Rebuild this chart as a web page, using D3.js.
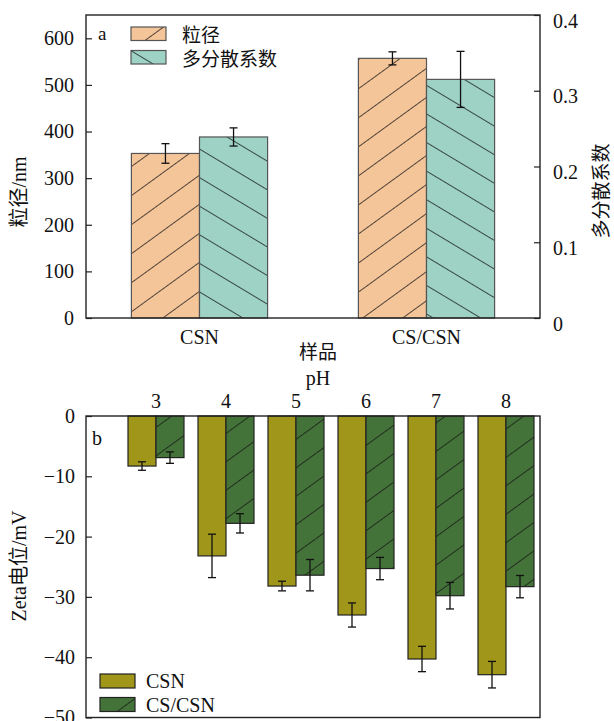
<!DOCTYPE html>
<html>
<head>
<meta charset="utf-8">
<style>
  body { margin: 0; background: #fff; }
  svg text { font-family: "Liberation Serif", "Times New Roman", "Noto Sans CJK SC", serif; fill: #111; }
</style>
</head>
<body>
<div class="chart"></div>
<script src="https://d3js.org/d3.v7.min.js"></script>
<script>
  // 图a 粒径 / 多分散系数
  const samples = ['CSN', 'CS/CSN']
  const sizeNm = [353, 557]
  const sizeErr = [21, 14]
  const pdi = [0.239, 0.315]
  const pdiErr = [0.012, 0.037]
  const sizeTicks = [0, 100, 200, 300, 400, 500, 600]
  const pdiTicks = [0, 0.1, 0.2, 0.3, 0.4]

  // 图b Zeta电位
  const phs = ['3', '4', '5', '6', '7', '8']
  const zetaCSN = [-8.3, -23.2, -28.2, -33.0, -40.3, -42.9]
  const zetaCSNErr = [0.7, 3.6, 0.8, 2.0, 2.1, 2.2]
  const zetaCS = [-6.9, -17.8, -26.4, -25.3, -29.8, -28.3]
  const zetaCSErr = [0.95, 1.6, 2.6, 1.85, 2.2, 1.85]
  const zetaTicks = [0, -10, -20, -30, -40, -50]

  const W = 614, H = 721
  const serif = '"Liberation Serif", "Times New Roman", "Noto Sans CJK SC", serif'
  const svg = d3.select('.chart').append('svg')
                .attr('width', W).attr('height', H)

  // hatch patterns
  const defs = svg.append('defs')
  function hatch(id, fill, angle, gap){
    const p = defs.append('pattern')
                  .attr('id', id)
                  .attr('patternUnits', 'userSpaceOnUse')
                  .attr('width', 10).attr('height', gap)
                  .attr('patternTransform', `rotate(${angle})`)
    p.append('rect').attr('width', 10).attr('height', gap).attr('fill', fill)
    p.append('line').attr('x1', 0).attr('x2', 10).attr('y1', 0.4).attr('y2', 0.4)
     .attr('stroke', '#111').attr('stroke-width', 0.8)
  }
  hatch('hOrange', '#F5C59A', -36, 23.5)
  hatch('hTeal', '#9DD2C4', 31, 24.5)
  hatch('hGreen', '#44733A', -36, 23)

  const left = 86, right = 540

  // ---------- 图a ----------
  const aTop = 15, aBottom = 318
  const xA = d3.scaleBand().domain(samples).range([left, right])
               .paddingInner(0.4).paddingOuter(0.2)
  const ySize = d3.scaleLinear().domain([0, 650]).range([aBottom, aTop])
  const yPdi = d3.scaleLinear().domain([0, 0.4]).range([aBottom, aTop])
  const bwA = xA.bandwidth() / 2

  const gA = svg.append('g')
  gA.selectAll('.sizeBar').data(samples).join('rect')
    .attr('x', d => xA(d)).attr('width', bwA)
    .attr('y', (d, i) => ySize(sizeNm[i]))
    .attr('height', (d, i) => aBottom - ySize(sizeNm[i]))
    .attr('fill', 'url(#hOrange)').attr('stroke', '#555').attr('stroke-width', 1.2)
  gA.selectAll('.pdiBar').data(samples).join('rect')
    .attr('x', d => xA(d) + bwA).attr('width', bwA)
    .attr('y', (d, i) => yPdi(pdi[i]))
    .attr('height', (d, i) => aBottom - yPdi(pdi[i]))
    .attr('fill', 'url(#hTeal)').attr('stroke', '#555').attr('stroke-width', 1.2)

  function errBar(g, cx, y1, y2){
    g.append('line').attr('x1', cx).attr('x2', cx).attr('y1', y1).attr('y2', y2)
    g.append('line').attr('x1', cx - 4).attr('x2', cx + 4).attr('y1', y1).attr('y2', y1)
    g.append('line').attr('x1', cx - 4).attr('x2', cx + 4).attr('y1', y2).attr('y2', y2)
  }
  const errA = gA.append('g').attr('stroke', '#111').attr('stroke-width', 1.3)
  samples.forEach((s, i) => {
    errBar(errA, xA(s) + bwA / 2, ySize(sizeNm[i] + sizeErr[i]), ySize(sizeNm[i] - sizeErr[i]))
    errBar(errA, xA(s) + bwA * 1.5, yPdi(pdi[i] + pdiErr[i]), yPdi(pdi[i] - pdiErr[i]))
  })

  // 坐标轴
  svg.append('g').attr('class', 'ax').attr('transform', `translate(${left},0)`)
    .call(d3.axisLeft(ySize).tickValues(sizeTicks).tickSize(-6).tickPadding(12))
  const axR = svg.append('g').attr('class', 'ax').attr('transform', `translate(${right},0)`)
    .call(d3.axisRight(yPdi).tickValues(pdiTicks).tickFormat(d3.format('')).tickSize(-6).tickPadding(13))
  axR.selectAll('text').attr('dy', '0.6em')
  svg.append('g').attr('class', 'ax').attr('transform', `translate(0,${aBottom})`)
    .call(d3.axisBottom(xA).tickSize(0).tickPadding(12))

  svg.append('rect').attr('x', left).attr('y', aTop)
     .attr('width', right - left).attr('height', aBottom - aTop)
     .attr('fill', 'none').attr('stroke', '#222').attr('stroke-width', 1.4)

  // ---------- 图b ----------
  const bTop = 416, bBottom = 717.5
  const xB = d3.scaleBand().domain(phs).range([121, 541])
               .paddingInner(0.2).paddingOuter(0.1)
  const yZ = d3.scaleLinear().domain([-50, 0]).range([bBottom, bTop])
  const bwB = xB.bandwidth() / 2

  const gB = svg.append('g')
  gB.selectAll('.csn').data(phs).join('rect')
    .attr('x', d => xB(d)).attr('width', bwB)
    .attr('y', yZ(0)).attr('height', (d, i) => yZ(zetaCSN[i]) - yZ(0))
    .attr('fill', '#A0961A').attr('stroke', '#222').attr('stroke-width', 1.2)
  gB.selectAll('.cs').data(phs).join('rect')
    .attr('x', d => xB(d) + bwB).attr('width', bwB)
    .attr('y', yZ(0)).attr('height', (d, i) => yZ(zetaCS[i]) - yZ(0))
    .attr('fill', 'url(#hGreen)').attr('stroke', '#222').attr('stroke-width', 1.2)

  const errB = gB.append('g').attr('stroke', '#111').attr('stroke-width', 1.3)
  phs.forEach((p, i) => {
    errBar(errB, xB(p) + bwB / 2, yZ(zetaCSN[i] + zetaCSNErr[i]), yZ(zetaCSN[i] - zetaCSNErr[i]))
    errBar(errB, xB(p) + bwB * 1.5, yZ(zetaCS[i] + zetaCSErr[i]), yZ(zetaCS[i] - zetaCSErr[i]))
  })

  svg.append('g').attr('class', 'ax').attr('transform', `translate(${left},0)`)
    .call(d3.axisLeft(yZ).tickValues(zetaTicks).tickSize(-6).tickPadding(11))
  svg.append('g').attr('class', 'ax').attr('transform', `translate(0,${bTop})`)
    .call(d3.axisTop(xB).tickSize(0).tickPadding(8))

  svg.append('rect').attr('x', left).attr('y', bTop)
     .attr('width', right - left).attr('height', bBottom - bTop)
     .attr('fill', 'none').attr('stroke', '#222').attr('stroke-width', 1.4)

  // 轴样式
  svg.selectAll('.ax').attr('font-family', serif).attr('font-size', 20)
  svg.selectAll('.domain').remove()
  svg.selectAll('.tick line').attr('stroke', '#222').attr('stroke-width', 1.2)
  svg.selectAll('.tick text').style('font-family', serif).style('font-size', '20px').attr('fill', '#111')

  // 文字
  const txt = (x, y, s, opt = {}) => svg.append('text')
      .attr('x', x).attr('y', y).text(s)
      .attr('text-anchor', opt.anchor || 'start')
      .attr('dominant-baseline', 'central')
      .attr('transform', opt.rot ? `rotate(-90,${x},${y})` : null)
      .style('font-family', serif)
      .style('font-size', (opt.size || 20) + 'px')

  txt(98, 33, 'a', { size: 19 })
  txt(92, 438, 'b', { size: 20 })
  txt(19, 192, '粒径/nm', { anchor: 'middle', rot: true })
  txt(601, 191, '多分散系数', { anchor: 'middle', rot: true, size: 19 })
  txt(19, 566, 'Zeta电位/mV', { anchor: 'middle', rot: true })
  txt(318, 352, '样品', { anchor: 'middle', size: 19 })
  txt(318, 378, 'pH', { anchor: 'middle' })

  // 图例 a
  const legA = [['粒径', 'url(#hOrange)'], ['多分散系数', 'url(#hTeal)']]
  legA.forEach((d, i) => {
    svg.append('rect').attr('x', 131).attr('y', 27 + i * 23.5).attr('width', 35).attr('height', 13.5)
       .attr('fill', d[1]).attr('stroke', '#555').attr('stroke-width', 1.2)
    txt(182, 35 + i * 24, d[0], { size: 19 })
  })
  // 图例 b
  const legB = [['CSN', '#A0961A'], ['CS/CSN', 'url(#hGreen)']]
  legB.forEach((d, i) => {
    svg.append('rect').attr('x', 100).attr('y', 674 + i * 23.5).attr('width', 35).attr('height', 14)
       .attr('fill', d[1]).attr('stroke', '#222').attr('stroke-width', 1.2)
    txt(146, 681 + i * 23.5, d[0], { size: 20 })
  })
</script>
</body>
</html>
